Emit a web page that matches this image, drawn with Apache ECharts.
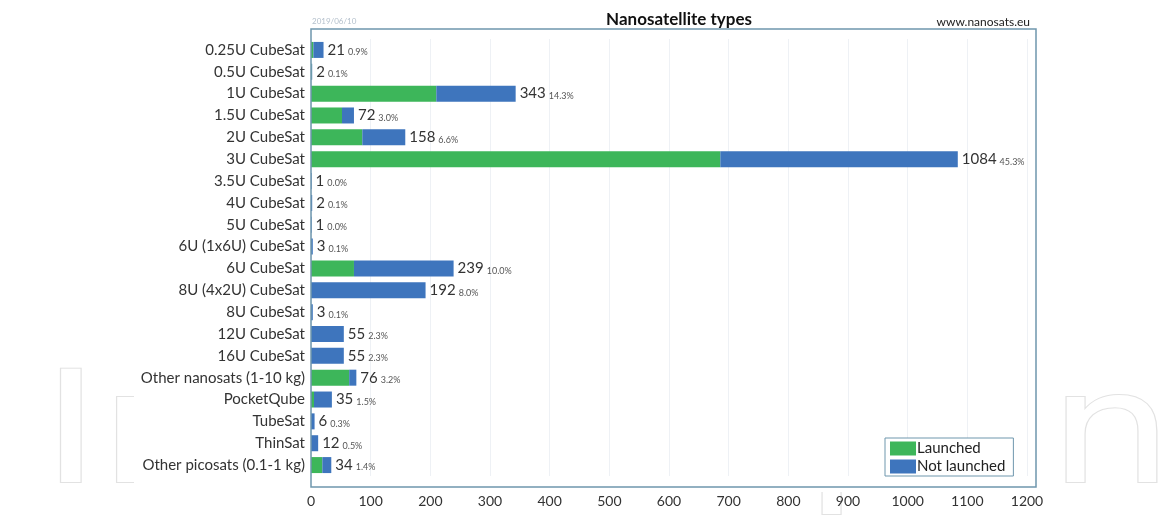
<!DOCTYPE html>
<html>
<head>
<meta charset="utf-8">
<script src="https://cdn.jsdelivr.net/npm/echarts@6/dist/echarts.min.js"></script>
<style>
html,body{margin:0;padding:0;background:#fff;}
#chart{width:1164px;height:529px;}
</style>
</head>
<body>
<div id="chart"></div>
<script>
const categories = ["0.25U CubeSat","0.5U CubeSat","1U CubeSat","1.5U CubeSat","2U CubeSat","3U CubeSat","3.5U CubeSat","4U CubeSat","5U CubeSat","6U (1x6U) CubeSat","6U CubeSat","8U (4x2U) CubeSat","8U CubeSat","12U CubeSat","16U CubeSat","Other nanosats (1-10 kg)","PocketQube","TubeSat","ThinSat","Other picosats (0.1-1 kg)"];
const totals = [21,2,343,72,158,1084,1,2,1,3,239,192,3,55,55,76,35,6,12,34];
const percents = ["0.9%","0.1%","14.3%","3.0%","6.6%","45.3%","0.0%","0.1%","0.0%","0.1%","10.0%","8.0%","0.1%","2.3%","2.3%","3.2%","1.5%","0.3%","0.5%","1.4%"];
const launched = [4,1,210,52,86,686,0,0,0,0,72,0,0,0,0,64,5,0,0,19];
const notLaunched = [17,1,133,20,72,398,1,2,1,3,167,192,3,55,55,12,30,6,12,15];
const xTicks = [0,100,200,300,400,500,600,700,800,900,1000,1100,1200];

const FONT = "Lato";
const chart = echarts.init(document.getElementById('chart'));
chart.setOption({
  backgroundColor: '#fff',
  animation: false,
  textStyle: {fontFamily: FONT},
  title: {
    text: 'Nanosatellite types',
    left: 674, top: 6, textAlign: 'center',
    textStyle: {fontFamily: FONT, fontSize: 17, fontWeight: 'bold', color: '#111'}
  },
  graphic: [
    {type: 'text', x: 42, y: 364, scaleX: 1.26, z: -20, silent: true,
     style: {x: 0, y: 0, text: 'IntechOpen', textBaseline: 'middle',
             font: '155px "DejaVu Sans"', fill: '#ffffff', stroke: '#e2e2e2', lineWidth: 2}},
    {type: 'rect', z: -10, silent: true,
     shape: {x: 134, y: 0, width: 908, height: 492},
     style: {fill: '#ffffff'}},
    {type: 'rect', z: 5, silent: true,
     shape: {x: 311, y: 29, width: 725, height: 458},
     style: {fill: 'none', stroke: '#6f97ad', lineWidth: 1.5}},
    {type: 'text', left: 312, top: 17, silent: true,
     style: {text: '2019/06/10', font: '8px "Lato"', fill: '#b4c0cc'}},
    {type: 'text', right: 134, top: 16, silent: true,
     style: {text: 'www.nanosats.eu', font: '12px "Lato"', fill: '#222'}}
  ],
  legend: {
    orient: 'vertical',
    left: 885, top: 438,
    itemWidth: 26, itemHeight: 14, itemGap: 3,
    padding: [3, 8, 2, 5],
    borderColor: '#6f97ad', borderWidth: 1,
    backgroundColor: '#fff',
    textStyle: {fontFamily: FONT, fontSize: 15, color: '#222', padding: [0,0,0,-4]},
    data: [{name: 'Launched', icon: 'rect'}, {name: 'Not launched', icon: 'rect'}]
  },
  grid: {left: 311, top: 39, width: 716, height: 437, containLabel: false},
  xAxis: {
    type: 'value', min: xTicks[0], max: xTicks[xTicks.length-1], interval: 100,
    axisLine: {show: false}, axisTick: {show: false},
    splitLine: {show: true, lineStyle: {color: '#eef1f5', width: 1}},
    axisLabel: {fontFamily: FONT, fontSize: 14, color: '#333', margin: 18,
                formatter: v => String(v)}
  },
  yAxis: {
    type: 'category', data: categories, inverse: true,
    axisLine: {show: false}, axisTick: {show: false},
    axisLabel: {fontFamily: FONT, fontSize: 15, color: '#333', margin: 6}
  },
  series: [
    {name: 'Launched', type: 'bar', stack: 's', data: launched, barWidth: 16,
     itemStyle: {color: '#3db65a'}},
    {name: 'Not launched', type: 'bar', stack: 's', data: notLaunched, barWidth: 16,
     itemStyle: {color: '#3e75bd'},
     label: {
       show: true, position: 'right', distance: 4,
       formatter: p => '{a|' + totals[p.dataIndex] + '}{b|' + percents[p.dataIndex] + '}',
       rich: {
         a: {fontFamily: FONT, fontSize: 15, color: '#333', padding: [0, 3, 0, 0]},
         b: {fontFamily: FONT, fontSize: 9, color: '#555', padding: [5, 0, 0, 0]}
       }
     }}
  ]
});
</script>
</body>
</html>
